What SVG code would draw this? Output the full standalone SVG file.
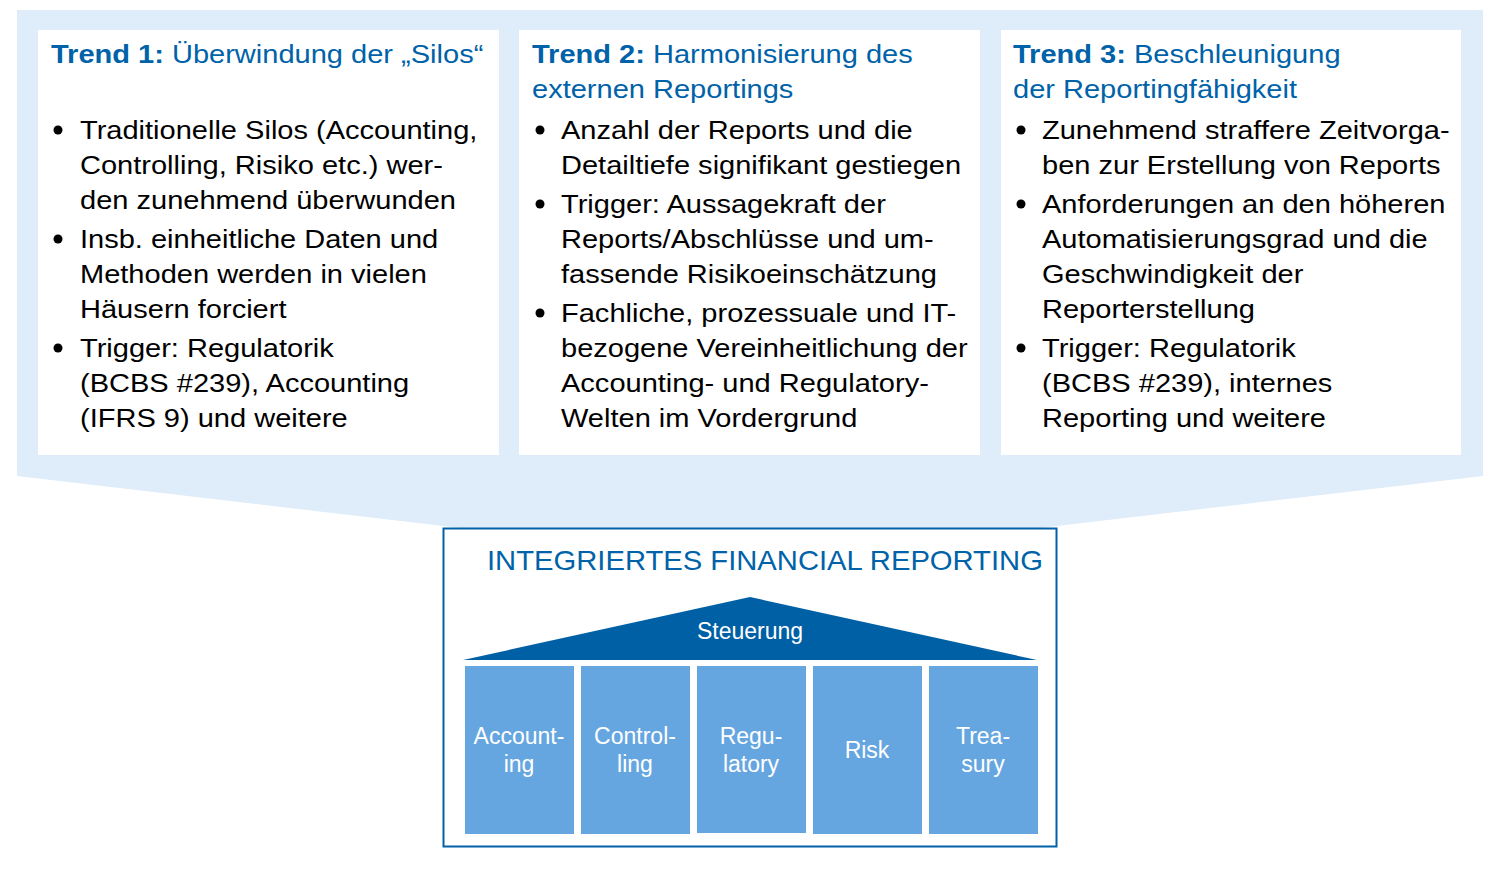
<svg xmlns="http://www.w3.org/2000/svg" width="1512" height="873" viewBox="0 0 1512 873">
<style>
.t{font-family:"Liberation Sans",Arial,sans-serif;font-size:26px;fill:#000}
.h{font-family:"Liberation Sans",Arial,sans-serif;font-size:26px;fill:#0062A8}
.b{font-weight:bold}
.p{fill:#fff}
.pl{fill:#66A6E0}
.pt{font-family:"Liberation Sans",Arial,sans-serif;font-size:23px;fill:#fff;text-anchor:middle}
</style>
<rect width="1512" height="873" fill="#fff"/>
<polygon points="17,10 1483,10 1483,476 750,562 17,476" fill="#DFECF9"/>
<g id="trend1">
<rect class="p" x="38" y="30" width="461" height="425"/>
<g transform="matrix(1.117,0,0,1,-5.97,0)"><text class="h" x="51" y="63"><tspan class="b">Trend 1:</tspan> Überwindung der „Silos“</text></g>
<circle cx="58" cy="130" r="4.5"/>
<circle cx="58" cy="239" r="4.5"/>
<circle cx="58" cy="348" r="4.5"/>
<g transform="matrix(1.117,0,0,1,-9.36,0)">
<text class="t" x="80" y="139">Traditionelle Silos (Accounting,</text>
<text class="t" x="80" y="174">Controlling, Risiko etc.) wer-</text>
<text class="t" x="80" y="209">den zunehmend überwunden</text>
<text class="t" x="80" y="248">Insb. einheitliche Daten und</text>
<text class="t" x="80" y="283">Methoden werden in vielen</text>
<text class="t" x="80" y="318">Häusern forciert</text>
<text class="t" x="80" y="357">Trigger: Regulatorik</text>
<text class="t" x="80" y="392">(BCBS #239), Accounting</text>
<text class="t" x="80" y="427">(IFRS 9) und weitere</text>
</g>
</g>
<g id="trend2">
<rect class="p" x="519" y="30" width="461" height="425"/>
<g transform="matrix(1.117,0,0,1,-62.24,0)">
<text class="h" x="532" y="63"><tspan class="b">Trend 2:</tspan> Harmonisierung des</text>
<text class="h" x="532" y="98">externen Reportings</text>
</g>
<circle cx="540" cy="130" r="4.5"/>
<circle cx="540" cy="204" r="4.5"/>
<circle cx="540" cy="313" r="4.5"/>
<g transform="matrix(1.117,0,0,1,-65.64,0)">
<text class="t" x="561" y="139">Anzahl der Reports und die</text>
<text class="t" x="561" y="174">Detailtiefe signifikant gestiegen</text>
<text class="t" x="561" y="213">Trigger: Aussagekraft der</text>
<text class="t" x="561" y="248">Reports/Abschlüsse und um-</text>
<text class="t" x="561" y="283">fassende Risikoeinschätzung</text>
<text class="t" x="561" y="322">Fachliche, prozessuale und IT-</text>
<text class="t" x="561" y="357">bezogene Vereinheitlichung der</text>
<text class="t" x="561" y="392">Accounting- und Regulatory-</text>
<text class="t" x="561" y="427">Welten im Vordergrund</text>
</g>
</g>
<g id="trend3">
<rect class="p" x="1001" y="30" width="460" height="425"/>
<g transform="matrix(1.117,0,0,1,-118.52,0)">
<text class="h" x="1013" y="63"><tspan class="b">Trend 3:</tspan> Beschleunigung</text>
<text class="h" x="1013" y="98">der Reportingfähigkeit</text>
</g>
<circle cx="1021" cy="130" r="4.5"/>
<circle cx="1021" cy="204" r="4.5"/>
<circle cx="1021" cy="348" r="4.5"/>
<g transform="matrix(1.117,0,0,1,-121.91,0)">
<text class="t" x="1042" y="139">Zunehmend straffere Zeitvorga-</text>
<text class="t" x="1042" y="174">ben zur Erstellung von Reports</text>
<text class="t" x="1042" y="213">Anforderungen an den höheren</text>
<text class="t" x="1042" y="248">Automatisierungsgrad und die</text>
<text class="t" x="1042" y="283">Geschwindigkeit der</text>
<text class="t" x="1042" y="318">Reporterstellung</text>
<text class="t" x="1042" y="357">Trigger: Regulatorik</text>
<text class="t" x="1042" y="392">(BCBS #239), internes</text>
<text class="t" x="1042" y="427">Reporting und weitere</text>
</g>
</g>
<g id="ifr">
<rect x="443.5" y="528.5" width="613" height="318" fill="#fff" stroke="#0060A8" stroke-width="2"/>
<g transform="matrix(1.082,0,0,1,-39.93,0)"><text x="487" y="570" style="font-family:'Liberation Sans',Arial,sans-serif;font-size:27px;fill:#0062A8">INTEGRIERTES FINANCIAL REPORTING</text></g>
</g>
<g id="steuerung">
<polygon points="750,597 463,660 1037,660" fill="#0060A5"/>
<text class="pt" x="750" y="639">Steuerung</text>
</g>
<g id="accounting"><rect class="pl" x="465" y="666" width="109" height="168"/><text class="pt" x="519" y="744">Account-</text><text class="pt" x="519" y="772">ing</text></g>
<g id="controlling"><rect class="pl" x="581" y="666" width="109" height="168"/><text class="pt" x="635" y="744">Control-</text><text class="pt" x="635" y="772">ling</text></g>
<g id="regulatory"><rect class="pl" x="697" y="666" width="109" height="167"/><text class="pt" x="751" y="744">Regu-</text><text class="pt" x="751" y="772">latory</text></g>
<g id="risk"><rect class="pl" x="813" y="666" width="109" height="168"/><text class="pt" x="867" y="758">Risk</text></g>
<g id="treasury"><rect class="pl" x="929" y="666" width="109" height="168"/><text class="pt" x="983" y="744">Trea-</text><text class="pt" x="983" y="772">sury</text></g>
<g id="connectors"/>
</svg>
